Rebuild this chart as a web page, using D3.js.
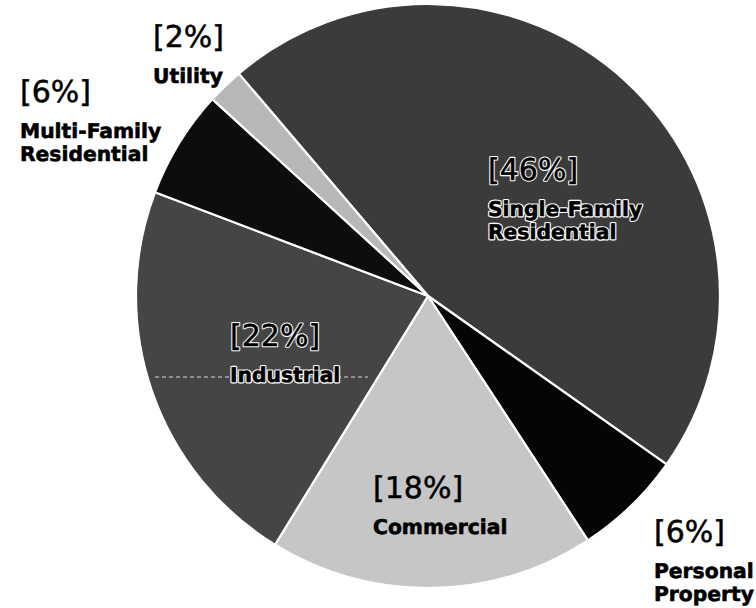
<!DOCTYPE html>
<html>
<head>
<meta charset="utf-8">
<script src="https://cdn.jsdelivr.net/npm/d3@7"></script>
<style>
  html, body { margin: 0; padding: 0; background: #fff; }
  svg { display: block; }
</style>
</head>
<body>
<div id="chart"></div>
<script>
// slices, clockwise from the top-left edge of the big slice
const categories = ["Single-Family Residential", "Personal Property", "Commercial", "Industrial", "Multi-Family Residential", "Utility"];
const values = [46, 6, 18, 22, 6, 2];
const nameLines = [["Single-Family", "Residential"], ["Personal", "Property"], ["Commercial"], ["Industrial"], ["Multi-Family", "Residential"], ["Utility"]];

const width = 756, height = 608;
const cx = 428, cy = 296, radius = 292;

const colors = {
  "Single-Family Residential": "#3b3b3b",
  "Personal Property": "#050505",
  "Commercial": "#c6c6c6",
  "Industrial": "#454545",
  "Multi-Family Residential": "#0d0d0d",
  "Utility": "#b8b8b8"
};

// where each label block starts (x, baseline of the percent line), and if it sits on a dark slice
const labelLayout = {
  "Single-Family Residential": { x: 488, y: 180, outline: true },
  "Personal Property": { x: 654, y: 542, outline: false },
  "Commercial": { x: 373, y: 498, outline: false },
  "Industrial": { x: 230, y: 346, outline: true },
  "Multi-Family Residential": { x: 20, y: 102, outline: false },
  "Utility": { x: 153, y: 47, outline: false }
};

const data = categories.map((c, i) => ({ name: c, value: values[i], lines: nameLines[i] }));

const svg = d3.select("#chart")
  .append("svg")
  .attr("width", width)
  .attr("height", height)
  .style("text-rendering", "geometricPrecision");

const pie = d3.pie()
  .sort(null)
  .value(d => d.value)
  .startAngle(-40.4 * Math.PI / 180)
  .endAngle((360 - 40.4) * Math.PI / 180);

const arc = d3.arc().innerRadius(0).outerRadius(radius);

const g = svg.append("g").attr("transform", `translate(${cx},${cy})`);

g.selectAll("path")
  .data(pie(data))
  .join("path")
  .attr("d", arc)
  .attr("fill", d => colors[d.data.name])
  .attr("stroke", "#fff")
  .attr("stroke-width", 2.2)
  .attr("stroke-linejoin", "round");

// faint dashed scan line running through the Industrial label
svg.append("line")
  .attr("x1", 155).attr("x2", 368)
  .attr("y1", 377).attr("y2", 377)
  .attr("stroke", "#d8d8d8")
  .attr("stroke-width", 1)
  .attr("stroke-dasharray", "4,3");

const labels = svg.selectAll("g.label")
  .data(data)
  .join("g")
  .attr("class", "label")
  .attr("transform", d => `translate(${labelLayout[d.name].x},${labelLayout[d.name].y})`);

// white halo first on the dark slices, then the black glyphs on top
function addText(sel, d, txt, y, size, bold) {
  const outline = labelLayout[d.name].outline;
  if (outline) {
    sel.append("text")
      .attr("y", y)
      .attr("font-family", "DejaVu Sans, sans-serif")
      .attr("font-weight", bold ? "bold" : "normal")
      .attr("font-size", size)
      .attr("fill", "#fff")
      .attr("stroke", "#fff")
      .attr("stroke-width", bold ? 3 : 2.6)
      .attr("stroke-linejoin", "round")
      .text(txt);
  }
  sel.append("text")
    .attr("y", y)
    .attr("font-family", "DejaVu Sans, sans-serif")
    .attr("font-weight", bold ? "bold" : "normal")
    .attr("font-size", size)
    .attr("fill", "#000")
    .attr("stroke", "#000")
    .attr("stroke-width", bold ? 0.6 : 0.5)
    .text(txt);
}

labels.each(function (d) {
  const sel = d3.select(this);
  addText(sel, d, `[${d.value}%]`, 0, 30, false);
  d.lines.forEach((line, i) => addText(sel, d, line, 36 + i * 23, 20.3, true));
});
</script>
</body>
</html>
